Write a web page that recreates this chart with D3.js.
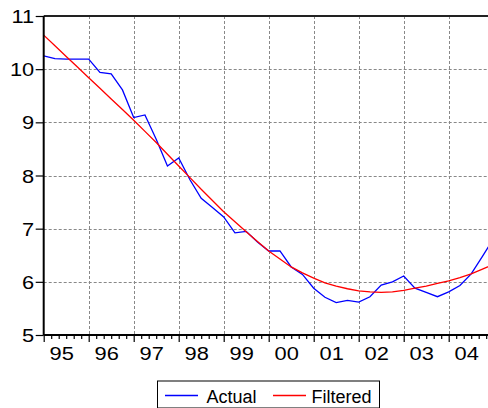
<!DOCTYPE html>
<html>
<head>
<meta charset="utf-8">
<script src="https://cdn.jsdelivr.net/npm/d3@7/dist/d3.min.js"></script>
<style>
html,body{margin:0;padding:0;background:#fff;overflow:hidden;}
svg{display:block;}
text{font-family:"Liberation Sans",Arial,sans-serif;fill:#000;}
</style>
</head>
<body>
<script>
// ---- data ----
const yearLabels = ["95","96","97","98","99","00","01","02","03","04"];
const periods = ["1995Q1","1995Q2","1995Q3","1995Q4","1996Q1","1996Q2","1996Q3","1996Q4",
 "1997Q1","1997Q2","1997Q3","1997Q4","1998Q1","1998Q2","1998Q3","1998Q4",
 "1999Q1","1999Q2","1999Q3","1999Q4","2000Q1","2000Q2","2000Q3","2000Q4",
 "2001Q1","2001Q2","2001Q3","2001Q4","2002Q1","2002Q2","2002Q3","2002Q4",
 "2003Q1","2003Q2","2003Q3","2003Q4","2004Q1","2004Q2","2004Q3","2004Q4","2005Q1"];
const actual = [10.25,10.20,10.19,10.19,10.19,9.94,9.91,9.61,
 9.09,9.14,8.68,8.18,8.33,7.92,7.57,7.40,
 7.22,6.92,6.95,6.75,6.58,6.58,6.28,6.14,
 5.88,5.71,5.61,5.65,5.62,5.72,5.94,6.00,
 6.11,5.88,5.80,5.72,5.81,5.93,6.15,6.48,6.82];
const filtered = [10.64,10.44,10.24,10.04,9.84,9.64,9.44,9.24,
 9.04,8.83,8.62,8.40,8.18,7.96,7.74,7.53,
 7.32,7.13,6.94,6.76,6.58,6.43,6.28,6.17,
 6.07,5.98,5.92,5.87,5.83,5.81,5.80,5.81,
 5.84,5.88,5.92,5.97,6.02,6.08,6.15,6.24,6.33];
const yTicks = [5,6,7,8,9,10,11];
const seriesNames = ["Actual","Filtered"];
const seriesColors = ["#0000FF","#FF0000"];

(function(){
// ---- layout ----
const W = 488, H = 408;
const pLeft = 43.7, pTop = 16, pBottom = 335, pRight = 493.7;
const stretch = 1.15;

const svg = d3.select("body").append("svg").attr("width", W).attr("height", H);

const toYear = p => +p.slice(0,4) + (+p.slice(5) - 1) / 4;
const x = d3.scaleLinear().domain([1995, 2005]).range([pLeft, pRight]);
const y = d3.scaleLinear().domain([5, 11]).range([pBottom, pTop]);

svg.append("defs").append("clipPath").attr("id","clip")
  .append("rect").attr("x", pLeft).attr("y", pTop).attr("width", pRight-pLeft).attr("height", pBottom-pTop);

// gridlines
const grid = svg.append("g").attr("stroke","#888").attr("stroke-width",1).attr("stroke-dasharray","3,2");
grid.selectAll("line.h").data(yTicks.filter(v => v>5 && v<11)).join("line").attr("class","h")
  .attr("x1", pLeft).attr("x2", pRight)
  .attr("y1", d => Math.round(y(d))+0.5).attr("y2", d => Math.round(y(d))+0.5);
grid.selectAll("line.v").data(d3.range(1996, 2005)).join("line").attr("class","v")
  .attr("y1", pTop).attr("y2", pBottom)
  .attr("x1", d => Math.round(x(d))+0.5).attr("x2", d => Math.round(x(d))+0.5);

// series
const line = vals => d3.line().x((d,i) => x(toYear(periods[i]))).y(d => y(d))(vals);
const gSeries = svg.append("g").attr("clip-path","url(#clip)");
[actual, filtered].forEach((vals, k) => {
  gSeries.append("path").attr("d", line(vals)).attr("fill","none")
    .attr("stroke", seriesColors[k]).attr("stroke-width", 1.3);
});

// frame: top line
svg.append("line").attr("x1", pLeft).attr("x2", W).attr("y1", pTop).attr("y2", pTop)
  .attr("stroke","#222").attr("stroke-width",2);

// y axis
const yAxis = d3.axisLeft(y).tickValues(yTicks).tickSize(8).tickFormat(d3.format("d"));
const gy = svg.append("g").attr("transform", `translate(${pLeft},0)`).call(yAxis);
gy.select(".domain").attr("stroke","#000").attr("stroke-width",2).attr("d", `M0,${pTop}V${pBottom}`);
gy.selectAll(".tick line").attr("stroke","#000").attr("stroke-width",1.2);
gy.selectAll(".tick text")
  .attr("x", null).attr("dy", null)
  .attr("transform", `translate(-9.5,6.6) scale(${stretch},1)`)
  .attr("font-size", 19).attr("font-family","Liberation Sans, Arial, sans-serif");

// x axis
const minor = d3.range(0, 61).map(k => 1995 + k/6).filter(v => Math.abs(v - Math.round(v)) > 1e-6);
const gxMinor = svg.append("g").attr("transform", `translate(0,${pBottom})`)
  .call(d3.axisBottom(x).tickValues(minor).tickSize(4).tickFormat(""));
gxMinor.select(".domain").remove();
gxMinor.selectAll(".tick line").attr("stroke","#000").attr("stroke-width",1.2);
const gx = svg.append("g").attr("transform", `translate(0,${pBottom})`)
  .call(d3.axisBottom(x).tickValues(d3.range(1995, 2006)).tickSize(7).tickFormat(""));
gx.select(".domain").attr("stroke","#000").attr("stroke-width",2).attr("d", `M${pLeft},0H${W}`);
gx.selectAll(".tick line").attr("stroke","#000").attr("stroke-width",1.2);

// year labels
svg.append("g").selectAll("text").data(yearLabels).join("text")
  .attr("transform", (d,i) => `translate(${x(1995 + i) + 18},360) scale(${stretch},1)`)
  .attr("text-anchor","middle")
  .attr("font-size", 19)
  .text(d => d);

// legend
const lg = svg.append("g");
lg.append("rect").attr("x",157.5).attr("y",381).attr("width",222).attr("height",27)
  .attr("fill","#fff").attr("stroke","#000").attr("stroke-width",1);
const legendPos = [{lx1:165, lx2:198, tx:206.5},{lx1:273, lx2:306, tx:311.5}];
seriesNames.forEach((n,k) => {
  lg.append("line").attr("x1",legendPos[k].lx1).attr("x2",legendPos[k].lx2)
    .attr("y1",395.5).attr("y2",395.5).attr("stroke",seriesColors[k]).attr("stroke-width",1.3);
  lg.append("text").attr("x",legendPos[k].tx).attr("y",402.5).attr("font-size",18).text(n);
});
})();
</script>
</body>
</html>
